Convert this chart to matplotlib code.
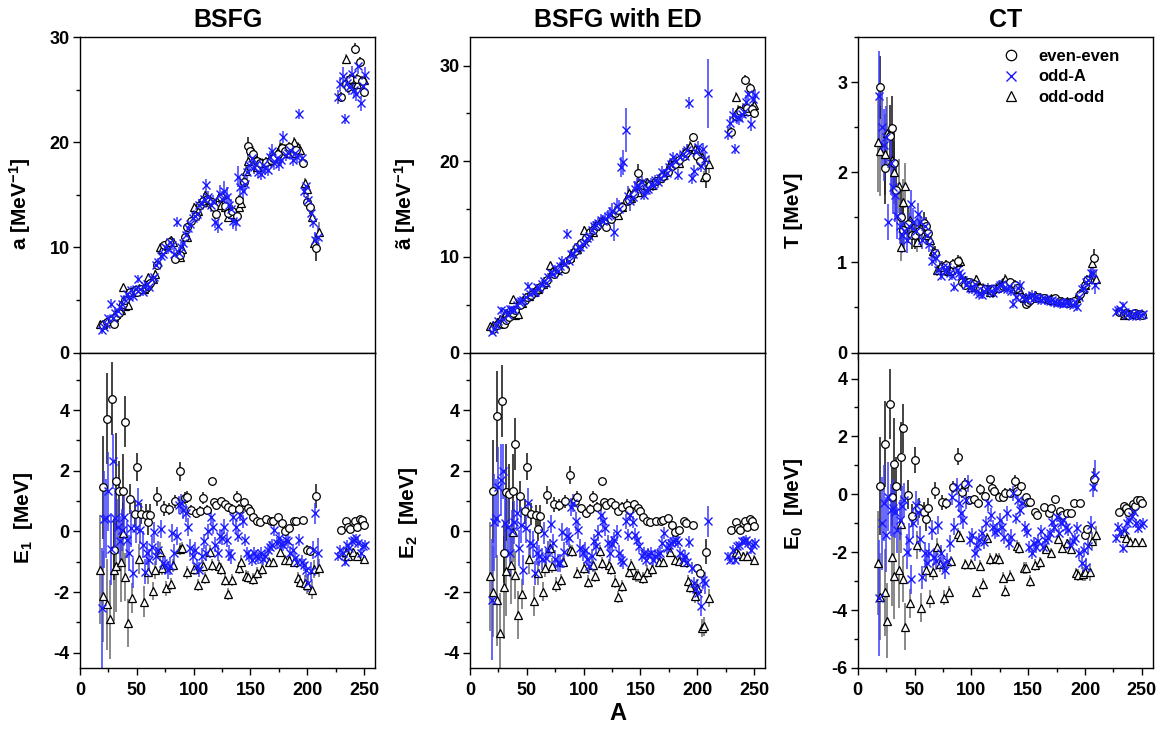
import matplotlib
matplotlib.use("Agg")
import matplotlib.pyplot as plt
from matplotlib.ticker import MultipleLocator
from matplotlib.lines import Line2D

plt.rcParams['font.family'] = ['Liberation Sans', 'DejaVu Sans']
plt.rcParams['font.weight'] = 'bold'
plt.rcParams['axes.labelweight'] = 'bold'
plt.rcParams['axes.titleweight'] = 'bold'
plt.rcParams['axes.unicode_minus'] = False
plt.rcParams['mathtext.fontset'] = 'custom'
plt.rcParams['mathtext.rm'] = 'Liberation Sans:bold'
plt.rcParams['mathtext.it'] = 'Liberation Sans:bold'
plt.rcParams['mathtext.bf'] = 'Liberation Sans:bold'

# ---------------- even-even nuclei ----------------
A_ee = [20, 24, 28, 30, 32, 34, 38, 40, 44, 48,
        50, 54, 58, 60, 62, 68, 74, 78, 84, 88,
        92, 94, 98, 102, 106, 108, 112, 116, 118, 120,
        124, 128, 130, 134, 138, 140, 144, 148, 150, 152,
        156, 158, 164, 168, 170, 174, 178, 180, 184, 188,
        190, 196, 200, 202, 208, 230, 234, 236, 238, 242,
        244, 246, 248, 250]
a_ee = [2.6, 2.9, 3.1, 2.75, 3.5, 3.8, 4.6, 5.0, 5.8, 5.9,
        5.8, 6.0, 6.1, 6.3, 6.6, 8.3, 10.2, 10.5, 8.9, 9.3,
        11.0, 11.9, 12.5, 13.0, 14.0, 14.4, 14.6, 14.3, 13.8, 13.2,
        14.8, 13.9, 13.3, 13.5, 13.0, 14.5, 16.2, 19.6, 19.2, 18.9,
        18.2, 18.0, 18.1, 18.3, 18.5, 18.9, 19.4, 19.2, 19.5, 19.0,
        19.3, 18.0, 14.3, 13.8, 9.9, 24.3, 25.5, 25.2, 26.0, 28.9,
        26.0, 27.6, 25.8, 24.8]
at_ee = [2.5, 2.9, 2.96, 3.0, 3.4, 3.7, 4.1, 4.4, 5.0, 5.5,
         5.8, 6.0, 6.4, 6.6, 6.8, 7.6, 8.2, 8.7, 8.7, 9.8,
         10.6, 11.0, 11.5, 12.0, 12.6, 12.8, 13.2, 13.6, 13.5, 13.1,
         14.0, 14.6, 14.9, 15.2, 15.8, 16.0, 16.6, 18.8, 17.6, 17.5,
         17.3, 17.5, 17.9, 18.2, 18.5, 18.9, 19.5, 19.7, 20.1, 20.6,
         20.9, 22.5, 20.6, 20.0, 18.4, 23.1, 24.7, 25.0, 25.3, 28.5,
         25.6, 27.7, 25.5, 25.0]
T_ee = [2.94, 2.05, 2.4, 2.49, 2.1, 1.8, 1.5, 1.36, 1.42, 1.3,
        1.3, 1.35, 1.44, 1.4, 1.33, 1.1, 0.95, 0.97, 0.98, 1.02,
        0.78, 0.75, 0.78, 0.76, 0.72, 0.72, 0.7, 0.7, 0.68, 0.7,
        0.72, 0.74, 0.75, 0.78, 0.75, 0.72, 0.62, 0.54, 0.56, 0.58,
        0.6, 0.62, 0.6, 0.58, 0.58, 0.6, 0.57, 0.56, 0.55, 0.56,
        0.57, 0.65, 0.75, 0.8, 1.05, 0.45, 0.43, 0.44, 0.42, 0.43,
        0.44, 0.42, 0.43, 0.42]
E1_ee = [1.46, 3.71, 4.38, -0.6, 1.65, 1.32, 1.35, 3.62, 1.07, 0.59,
         2.13, 0.59, 0.55, 0.3, 0.55, 1.15, 0.77, 0.74, 0.99, 1.98,
         1.1, 1.15, 0.71, 0.6, 0.69, 1.09, 0.71, 1.66, 0.97, 0.86,
         1.0, 0.89, 0.8, 0.74, 1.13, 0.75, 0.96, 0.77, 0.66, 0.49,
         0.36, 0.3, 0.4, 0.33, 0.36, 0.49, 0.27, 0.0, 0.11, 0.36,
         0.33, 0.38, -0.6, -0.63, 1.18, 0.05, 0.33, 0.14, 0.08, 0.33,
         0.16, 0.42, 0.38, 0.22]
E2_ee = [1.32, 3.8, 4.3, -0.7, 1.29, 1.24, 1.35, 2.88, 1.18, 0.66,
         2.14, 0.58, 0.53, 0.08, 0.52, 1.21, 0.9, 0.86, 0.99, 1.87,
         1.0, 1.15, 0.77, 0.6, 0.74, 1.15, 0.82, 1.67, 0.97, 0.88,
         0.97, 0.86, 0.68, 0.82, 0.88, 0.71, 0.9, 0.77, 0.66, 0.49,
         0.36, 0.3, 0.33, 0.36, 0.38, 0.44, 0.22, -0.03, 0.05, 0.33,
         0.27, 0.21, -1.21, -1.37, -0.66, 0.05, 0.3, 0.11, 0.05, 0.33,
         0.16, 0.42, 0.33, 0.19]
E0_ee = [0.29, 1.74, 3.12, -0.08, 1.05, 0.29, 1.3, 2.28, -0.02, -0.74,
         1.19, -0.46, -0.6, -0.85, -0.46, 0.13, -0.28, -0.31, 0.26, 1.3,
         0.09, 0.36, -0.2, -0.17, -0.31, 0.17, -0.06, 0.52, 0.23, 0.13,
         -0.08, -0.08, 0.06, 0.06, 0.47, 0.1, 0.29, -0.1, -0.25, -0.25,
         -0.62, -0.71, -0.43, -0.66, -0.48, -0.17, -0.58, -0.71, -0.63, -0.63,
         -0.31, -0.31, -1.4, -1.21, 0.52, -0.6, -0.39, -0.48, -0.62, -0.33,
         -0.39, -0.2, -0.2, -0.31]
errE_ee = [1.7, 1.5, 1.2, 1.0, 1.6, 1.0, 1.2, 0.85, 0.5, 0.4,
           0.45, 0.35, 0.35, 0.4, 0.35, 0.3, 0.25, 0.2, 0.2, 0.3,
           0.2, 0.2, 0.15, 0.15, 0.15, 0.2, 0.15, 0.1, 0.15, 0.15,
           0.15, 0.15, 0.15, 0.15, 0.2, 0.15, 0.15, 0.1, 0.1, 0.1,
           0.1, 0.1, 0.1, 0.1, 0.1, 0.1, 0.1, 0.1, 0.1, 0.1,
           0.1, 0.1, 0.15, 0.15, 0.4, 0.1, 0.1, 0.1, 0.1, 0.1,
           0.1, 0.1, 0.1, 0.1]
err_top_ee = [0.3, 0.3, 0.3, 0.3, 0.3, 0.3, 0.3, 0.3, 0.3, 0.3,
              0.3, 0.3, 0.3, 0.3, 0.3, 0.3, 0.3, 0.3, 0.4, 0.4,
              0.4, 0.4, 0.4, 0.4, 0.4, 0.4, 0.4, 0.4, 0.4, 0.4,
              0.4, 0.4, 0.5, 0.5, 0.5, 0.5, 0.5, 0.9, 0.5, 0.5,
              0.5, 0.5, 0.5, 0.5, 0.5, 0.5, 0.5, 0.5, 0.5, 0.5,
              0.5, 0.5, 0.6, 0.6, 1.2, 0.5, 0.5, 0.5, 0.5, 0.5,
              0.5, 0.5, 0.5, 0.5]
err_T_ee = [0.35, 0.4, 0.35, 0.35, 0.35, 0.3, 0.3, 0.25, 0.2, 0.15,
            0.15, 0.12, 0.12, 0.1, 0.1, 0.08, 0.06, 0.06, 0.06, 0.06,
            0.05, 0.05, 0.05, 0.05, 0.05, 0.05, 0.05, 0.05, 0.05, 0.05,
            0.05, 0.05, 0.05, 0.05, 0.05, 0.05, 0.05, 0.05, 0.05, 0.05,
            0.04, 0.04, 0.04, 0.04, 0.04, 0.04, 0.04, 0.04, 0.04, 0.04,
            0.04, 0.05, 0.06, 0.06, 0.1, 0.03, 0.03, 0.03, 0.03, 0.03,
            0.03, 0.03, 0.03, 0.03]

# ---------------- odd-odd nuclei ----------------
A_oo = [18, 20, 24, 26, 30, 32, 36, 38, 40, 42,
        46, 52, 56, 60, 64, 66, 70, 72, 76, 80,
        82, 88, 90, 94, 100, 104, 108, 110, 114, 116,
        122, 124, 128, 130, 134, 140, 142, 146, 148, 152,
        156, 160, 166, 170, 176, 180, 184, 188, 192, 194,
        198, 200, 204, 206, 210, 234, 236, 240, 244, 250]
a_oo = [2.7, 2.75, 3.0, 3.2, 3.4, 3.7, 4.0, 6.2, 4.4, 4.5,
        5.8, 6.1, 6.0, 7.2, 7.0, 7.5, 10.0, 9.8, 10.2, 10.7,
        10.5, 9.1, 9.8, 11.0, 13.8, 13.5, 14.3, 15.0, 14.5, 14.2,
        14.8, 14.0, 13.8, 12.9, 13.2, 13.8, 14.2, 17.3, 18.2, 19.1,
        17.6, 18.0, 18.2, 18.5, 19.5, 19.3, 19.0, 20.0, 19.5, 19.3,
        16.1, 15.5, 12.9, 10.4, 11.5, 27.9, 25.8, 26.0, 25.5, 25.9]
at_oo = [2.8, 2.9, 3.2, 3.5, 3.8, 4.1, 4.1, 5.6, 3.9, 4.0,
         5.2, 5.9, 6.3, 6.6, 7.2, 7.4, 9.1, 8.5, 8.6, 9.0,
         9.3, 10.0, 10.4, 10.8, 12.8, 12.4, 12.6, 13.2, 13.6, 13.8,
         14.1, 14.3, 14.8, 14.4, 15.2, 16.7, 16.2, 16.8, 16.8, 17.6,
         17.8, 17.5, 18.2, 18.6, 19.8, 19.8, 19.8, 20.9, 21.3, 21.6,
         21.3, 21.1, 20.4, 18.4, 19.7, 26.7, 25.4, 25.6, 25.3, 25.9]
T_oo = [2.33, 2.24, 2.2, 2.43, 2.14, 2.0, 1.85, 1.17, 1.67, 1.85,
        1.47, 1.23, 1.39, 1.3, 1.25, 1.13, 0.91, 0.95, 0.92, 0.9,
        0.91, 1.0, 1.02, 0.8, 0.73, 0.81, 0.73, 0.72, 0.7, 0.67,
        0.72, 0.74, 0.78, 0.82, 0.78, 0.7, 0.7, 0.6, 0.6, 0.62,
        0.64, 0.62, 0.6, 0.6, 0.58, 0.57, 0.57, 0.56, 0.6, 0.64,
        0.7, 0.75, 0.83, 0.99, 0.82, 0.42, 0.44, 0.43, 0.44, 0.43]
E1_oo = [-1.26, -2.14, -2.4, -2.89, -1.26, -1.15, -1.02, -0.05, -1.5, -3.02,
         -2.2, -0.91, -2.31, -1.34, -1.95, -1.26, -0.66, -1.2, -1.87, -1.72,
         -1.12, -0.57, -0.55, -1.35, -1.24, -1.76, -1.15, -1.54, -0.66, -1.1,
         -1.13, -1.24, -1.59, -2.05, -1.6, -1.2, -0.99, -1.46, -1.5, -1.57,
         -1.37, -1.24, -0.99, -1.02, -0.68, -0.93, -0.93, -1.02, -1.54, -1.65,
         -1.7, -1.76, -1.92, -1.24, -1.2, -0.69, -0.8, -0.69, -0.82, -0.91]
E2_oo = [-1.48, -1.98, -2.27, -3.33, -1.84, -1.3, -1.1, -0.02, -1.43, -2.75,
         -2.05, -0.9, -2.29, -1.37, -1.98, -1.2, -0.55, -1.13, -1.76, -1.6,
         -1.02, -0.6, -0.63, -1.37, -1.19, -1.65, -1.12, -1.46, -0.64, -1.04,
         -1.12, -1.24, -1.65, -2.16, -1.79, -1.34, -1.1, -1.45, -1.45, -1.54,
         -1.32, -1.24, -0.99, -1.02, -0.69, -0.93, -0.97, -1.02, -1.62, -1.84,
         -2.12, -1.85, -3.19, -3.13, -2.18, -0.66, -0.75, -0.82, -0.8, -0.93]
E0_oo = [-2.38, -3.53, -3.38, -4.37, -2.17, -2.81, -2.61, -1.04, -2.92, -4.57,
         -3.76, -1.75, -3.91, -2.61, -3.62, -2.67, -1.81, -2.42, -3.57, -3.36,
         -2.32, -1.38, -1.46, -2.42, -2.42, -3.36, -2.46, -3.1, -1.52, -2.23,
         -2.21, -2.23, -2.88, -3.33, -2.81, -1.78, -1.85, -2.55, -2.55, -2.99,
         -2.44, -2.35, -1.89, -2.01, -1.55, -1.86, -1.69, -1.89, -2.73, -2.78,
         -2.76, -2.7, -2.69, -1.6, -1.4, -1.35, -1.5, -1.63, -1.66, -1.66]
errE_oo = [1.8, 1.5, 1.5, 1.3, 1.7, 1.5, 1.3, 1.0, 0.8, 0.8,
           0.5, 0.5, 0.5, 0.4, 0.3, 0.3, 0.3, 0.25, 0.25, 0.2,
           0.2, 0.2, 0.2, 0.2, 0.2, 0.2, 0.2, 0.2, 0.2, 0.2,
           0.2, 0.2, 0.2, 0.2, 0.2, 0.2, 0.2, 0.2, 0.2, 0.2,
           0.2, 0.2, 0.15, 0.15, 0.15, 0.15, 0.15, 0.15, 0.2, 0.2,
           0.25, 0.3, 0.3, 0.3, 0.3, 0.15, 0.15, 0.15, 0.15, 0.15]
err_top_oo = [0.3, 0.3, 0.3, 0.3, 0.3, 0.3, 0.3, 0.3, 0.3, 0.3,
              0.3, 0.3, 0.3, 0.3, 0.3, 0.3, 0.3, 0.3, 0.3, 0.4,
              0.4, 0.4, 0.4, 0.4, 0.4, 0.4, 0.4, 0.4, 0.4, 0.4,
              0.4, 0.4, 0.5, 0.5, 0.5, 0.5, 0.5, 0.5, 0.5, 0.5,
              0.5, 0.5, 0.5, 0.5, 0.5, 0.5, 0.5, 0.5, 0.5, 0.5,
              0.5, 0.5, 0.6, 0.6, 0.9, 0.5, 0.5, 0.5, 0.5, 0.5]
err_T_oo = [0.55, 0.5, 0.45, 0.4, 0.4, 0.35, 0.3, 0.15, 0.25, 0.25,
            0.15, 0.12, 0.12, 0.1, 0.08, 0.08, 0.06, 0.06, 0.05, 0.05,
            0.05, 0.05, 0.05, 0.05, 0.05, 0.05, 0.05, 0.05, 0.05, 0.05,
            0.05, 0.05, 0.05, 0.05, 0.05, 0.05, 0.05, 0.05, 0.05, 0.05,
            0.04, 0.04, 0.04, 0.04, 0.04, 0.04, 0.04, 0.04, 0.04, 0.04,
            0.04, 0.05, 0.06, 0.08, 0.08, 0.03, 0.03, 0.03, 0.03, 0.03]

# ---------------- odd-A nuclei ----------------
A_oa = [19, 21, 23, 25, 27, 29, 31, 33, 35, 37,
        39, 41, 43, 45, 47, 49, 51, 53, 55, 57,
        59, 61, 63, 65, 67, 69, 71, 73, 75, 77,
        79, 81, 83, 85, 87, 89, 91, 93, 95, 97,
        99, 101, 103, 105, 107, 109, 111, 113, 115, 117,
        119, 121, 123, 125, 127, 129, 131, 133, 135, 137,
        139, 141, 143, 145, 147, 149, 151, 153, 155, 157,
        159, 161, 163, 165, 167, 169, 171, 173, 175, 177,
        179, 181, 183, 185, 187, 189, 191, 193, 195, 197,
        199, 201, 203, 205, 207, 209, 227, 229, 231, 233,
        235, 237, 239, 241, 243, 245, 247, 249, 251]
a_oa = [2.1, 2.4, 2.7, 3.3, 4.65, 3.3, 3.8, 3.9, 4.3, 4.6,
        5.1, 5.6, 5.3, 5.9, 5.4, 6.0, 7.0, 6.0, 5.8, 6.3,
        6.5, 6.2, 7.0, 7.2, 8.3, 8.6, 9.2, 9.4, 10.0, 9.8,
        10.5, 10.2, 9.4, 12.4, 9.5, 10.0, 10.4, 11.2, 11.8, 12.2,
        12.8, 13.0, 13.2, 14.0, 14.2, 14.6, 15.9, 14.8, 14.0, 14.4,
        12.4, 12.0, 15.1, 14.6, 15.4, 14.8, 14.0, 13.6, 12.5, 12.4,
        16.7, 15.7, 15.4, 16.0, 17.2, 17.8, 18.5, 17.6, 17.9, 17.2,
        17.0, 17.8, 17.5, 17.4, 18.6, 19.2, 18.0, 18.5, 17.9, 18.3,
        20.5, 18.8, 19.0, 19.3, 18.3, 19.0, 18.6, 22.7, 18.5, 15.4,
        15.8, 14.5, 13.3, 12.4, 10.7, 11.0, 24.3, 25.5, 26.3, 22.2,
        25.6, 25.2, 26.5, 25.0, 24.6, 27.2, 23.7, 25.3, 26.4]
at_oa = [2.1, 2.5, 2.9, 3.3, 4.4, 3.5, 4.3, 3.9, 4.5, 4.6,
         4.4, 5.0, 5.3, 5.4, 5.5, 5.8, 7.0, 6.1, 6.3, 6.3,
         6.8, 6.7, 7.2, 7.5, 7.3, 7.9, 8.3, 8.2, 8.8, 8.5,
         9.0, 9.6, 9.3, 12.4, 9.6, 10.3, 10.3, 10.7, 11.0, 11.0,
         11.4, 11.6, 12.0, 12.2, 12.8, 13.2, 13.3, 13.5, 13.9, 13.8,
         14.0, 14.3, 14.4, 14.8, 12.6, 15.3, 15.0, 19.4, 19.9, 23.3,
         16.4, 15.8, 16.3, 17.1, 17.5, 17.2, 17.8, 16.5, 17.0, 17.1,
         17.6, 17.5, 18.0, 17.8, 18.2, 18.9, 18.6, 18.8, 19.4, 19.7,
         20.4, 20.0, 18.6, 20.4, 20.8, 20.6, 21.2, 26.1, 18.2, 19.0,
         21.0, 21.5, 19.5, 21.3, 20.2, 27.1, 22.9, 24.0, 24.8, 21.3,
         24.6, 24.5, 24.9, 25.2, 26.2, 27.0, 23.9, 26.5, 26.9]
T_oa = [2.84, 2.5, 2.3, 2.39, 1.45, 2.1, 1.84, 1.75, 1.51, 1.4,
        1.3, 1.35, 1.25, 1.4, 1.65, 1.45, 1.35, 1.54, 1.45, 1.25,
        1.4, 1.3, 1.2, 1.02, 1.1, 1.05, 0.92, 0.85, 0.95, 0.9,
        0.95, 0.88, 0.85, 0.73, 0.92, 0.88, 0.85, 0.8, 0.75, 0.78,
        0.72, 0.7, 0.76, 0.68, 0.65, 0.64, 0.68, 0.7, 0.72, 0.68,
        0.66, 0.7, 0.72, 0.75, 0.76, 0.72, 0.7, 0.74, 0.68, 0.54,
        0.62, 0.72, 0.75, 0.62, 0.6, 0.58, 0.62, 0.64, 0.6, 0.62,
        0.6, 0.58, 0.6, 0.59, 0.58, 0.57, 0.58, 0.56, 0.55, 0.56,
        0.55, 0.54, 0.55, 0.56, 0.55, 0.53, 0.56, 0.51, 0.62, 0.7,
        0.72, 0.78, 0.8, 0.88, 0.88, 0.75, 0.45, 0.47, 0.48, 0.53,
        0.45, 0.42, 0.44, 0.4, 0.43, 0.41, 0.44, 0.42, 0.43]
E1_oa = [-2.53, 0.4, 0.44, 1.32, -0.58, 2.31, 0.44, 0.16, -0.3, 0.05,
         0.49, -0.27, -0.71, 0.1, -1.37, 0.11, 0.93, 0.05, -0.44, -1.32,
         -0.71, -0.93, -0.5, -0.03, -0.82, -0.6, 0.08, -1.04, -1.1, -1.26,
         -1.15, -0.05, -0.71, -0.16, 0.88, 0.93, 0.7, 0.6, 0.16, -0.55,
         -0.82, -0.6, -1.15, -1.26, -0.8, -0.33, -0.71, 0.0, 0.49, 0.16,
         -0.44, -0.71, -0.16, -0.2, 0.16, -0.27, -0.71, -0.82, 0.49, 0.16,
         -0.16, 0.55, 0.33, -0.27, -0.71, -0.82, -0.93, -0.71, -0.8, -0.88,
         -0.71, -0.9, -0.82, -0.6, -0.5, -0.44, 0.05, -0.38, -0.22, -0.4,
         -0.44, -0.27, -0.33, -0.7, -0.6, -0.88, -1.0, -0.27, -0.99, -1.1,
         -1.26, -1.7, -1.3, -0.6, 0.6, -0.7, -0.82, -0.6, -0.71, -0.99,
         -0.44, -0.55, -0.33, -0.27, -0.22, -0.38, -0.71, -0.49, -0.44]
E2_oa = [-2.25, 0.3, 0.44, 1.48, 1.7, 1.98, 0.27, 0.16, -0.71, 0.0,
         0.3, 0.6, -0.55, 0.22, -1.26, 0.11, 0.93, -0.38, -0.44, -1.37,
         -0.71, -0.8, -0.91, -0.05, -0.88, -0.6, 0.24, -0.38, -0.9, -1.04,
         -1.04, -0.03, -0.66, -0.16, -0.2, 0.82, 0.93, 0.33, 0.05, -0.55,
         -0.71, -0.6, -0.9, -1.15, -0.82, -0.33, -0.49, -0.05, 0.55, 0.33,
         0.11, -0.38, -0.71, -0.4, -0.27, -0.05, -0.71, -0.93, -0.99, 0.33,
         -0.11, 0.55, 0.3, -0.1, -0.27, -0.49, -0.82, -0.7, -0.93, -0.75,
         -0.71, -0.93, -0.82, -0.75, -0.71, -0.38, -0.05, -0.55, -0.45, -0.38,
         -0.3, -0.27, -0.36, -0.71, -0.93, -0.8, -1.0, -0.35, -1.2, -1.7,
         -1.9, -2.03, -2.47, -1.59, -1.7, 0.33, -0.82, -0.93, -0.6, -0.93,
         -0.49, -0.45, -0.33, -0.3, -0.27, -0.38, -0.6, -0.44, -0.38]
E0_oa = [-3.59, -1.0, -0.3, -1.4, -0.08, -0.54, -0.48, -0.6, -1.23, -0.89,
         -0.4, -0.2, -1.98, -1.58, -2.93, -1.0, -0.37, -0.6, -1.55, -2.87,
         -2.04, -2.38, -2.04, -1.23, -2.15, -2.3, -1.06, -2.04, -2.4, -2.61,
         -2.32, -1.69, -0.08, -1.12, 0.26, -0.31, -0.66, -0.89, -0.2, 0.38,
         -1.58, -1.4, -2.04, -1.8, -1.58, -1.35, -1.63, -1.0, -0.31, -0.71,
         -1.12, -1.29, -1.23, -0.89, -1.12, -1.46, -0.66, -1.69, -1.46, 0.03,
         -0.83, -0.2, -0.54, -0.31, -1.12, -1.3, -1.81, -2.04, -1.69, -1.81,
         -1.6, -1.27, -1.81, -1.58, -1.5, -1.35, -0.94, -1.12, -0.77, -1.35,
         -1.0, -0.89, -1.12, -1.23, -1.75, -1.6, -1.52, -1.17, -2.04, -2.38,
         -1.92, -2.5, -1.8, -1.06, 0.26, 0.67, -1.52, -1.12, -1.3, -1.86,
         -1.23, -1.0, -0.89, -0.75, -0.6, -1.0, -1.17, -1.05, -0.98]
errE_oa = [2.0, 1.6, 1.3, 1.3, 1.2, 0.9, 1.0, 0.9, 0.8, 0.7,
           0.7, 0.6, 0.6, 0.6, 0.5, 0.5, 0.5, 0.45, 0.45, 0.4,
           0.4, 0.35, 0.35, 0.35, 0.3, 0.3, 0.3, 0.3, 0.3, 0.3,
           0.3, 0.3, 0.3, 0.3, 0.3, 0.3, 0.3, 0.3, 0.3, 0.3,
           0.25, 0.25, 0.25, 0.25, 0.25, 0.25, 0.25, 0.25, 0.25, 0.25,
           0.25, 0.25, 0.25, 0.25, 0.25, 0.25, 0.25, 0.25, 0.25, 0.25,
           0.2, 0.2, 0.2, 0.2, 0.2, 0.2, 0.2, 0.2, 0.2, 0.2,
           0.2, 0.2, 0.2, 0.2, 0.2, 0.2, 0.2, 0.2, 0.2, 0.2,
           0.2, 0.2, 0.2, 0.2, 0.2, 0.2, 0.2, 0.2, 0.2, 0.2,
           0.25, 0.3, 0.3, 0.3, 0.35, 0.5, 0.15, 0.15, 0.15, 0.15,
           0.15, 0.15, 0.15, 0.15, 0.15, 0.15, 0.15, 0.15, 0.15]
err_a_oa = [0.3, 0.3, 0.3, 0.3, 0.4, 0.3, 0.3, 0.3, 0.3, 0.3,
            0.4, 0.4, 0.4, 0.4, 0.4, 0.4, 0.4, 0.4, 0.4, 0.4,
            0.4, 0.4, 0.4, 0.4, 0.4, 0.4, 0.4, 0.4, 0.4, 0.4,
            0.5, 0.5, 0.5, 0.5, 0.5, 0.5, 0.5, 0.5, 0.5, 0.5,
            0.6, 0.6, 0.6, 0.6, 0.6, 0.6, 0.6, 0.6, 0.6, 0.6,
            0.6, 0.6, 0.8, 0.8, 0.9, 0.9, 1.0, 1.0, 0.8, 0.8,
            1.0, 1.0, 0.8, 0.8, 0.7, 0.7, 0.7, 0.6, 0.6, 0.6,
            0.6, 0.6, 0.6, 0.6, 0.6, 0.6, 0.6, 0.6, 0.6, 0.6,
            0.6, 0.6, 0.6, 0.6, 0.6, 0.6, 0.6, 0.5, 0.6, 0.6,
            0.6, 0.6, 0.6, 0.6, 0.8, 1.0, 0.7, 0.7, 0.8, 0.5,
            0.7, 0.7, 0.7, 0.7, 0.7, 0.7, 0.7, 0.7, 0.7]
err_at_oa = [0.3, 0.3, 0.3, 0.3, 0.4, 0.3, 0.3, 0.3, 0.3, 0.3,
             0.4, 0.4, 0.4, 0.4, 0.4, 0.4, 0.4, 0.4, 0.4, 0.4,
             0.4, 0.4, 0.4, 0.4, 0.4, 0.4, 0.4, 0.4, 0.4, 0.4,
             0.5, 0.5, 0.5, 0.5, 0.5, 0.5, 0.5, 0.5, 0.5, 0.5,
             0.6, 0.6, 0.6, 0.6, 0.6, 0.6, 0.6, 0.6, 0.6, 0.6,
             0.6, 0.6, 0.8, 0.8, 0.9, 0.9, 1.0, 1.0, 1.3, 2.3,
             1.0, 1.0, 0.8, 0.8, 0.7, 0.7, 0.7, 0.6, 0.6, 0.6,
             0.6, 0.6, 0.6, 0.6, 0.6, 0.6, 0.6, 0.6, 0.6, 0.6,
             0.6, 0.6, 0.6, 0.6, 0.6, 0.6, 0.6, 0.6, 0.6, 0.6,
             0.6, 0.6, 0.6, 0.6, 0.8, 3.6, 0.7, 0.7, 0.8, 0.5,
             0.7, 0.7, 0.7, 0.7, 0.7, 0.7, 0.7, 0.7, 0.7]
err_T_oa = [0.5, 0.45, 0.4, 0.35, 0.2, 0.35, 0.3, 0.3, 0.25, 0.2,
            0.2, 0.2, 0.15, 0.15, 0.15, 0.15, 0.12, 0.12, 0.1, 0.1,
            0.1, 0.08, 0.08, 0.06, 0.06, 0.06, 0.05, 0.05, 0.05, 0.05,
            0.05, 0.05, 0.05, 0.05, 0.05, 0.05, 0.05, 0.05, 0.05, 0.05,
            0.05, 0.05, 0.05, 0.05, 0.05, 0.05, 0.05, 0.05, 0.05, 0.05,
            0.05, 0.05, 0.05, 0.05, 0.05, 0.05, 0.05, 0.05, 0.05, 0.05,
            0.05, 0.05, 0.05, 0.05, 0.05, 0.05, 0.05, 0.05, 0.05, 0.05,
            0.05, 0.05, 0.05, 0.05, 0.05, 0.05, 0.05, 0.05, 0.05, 0.05,
            0.05, 0.05, 0.05, 0.05, 0.05, 0.05, 0.05, 0.05, 0.05, 0.05,
            0.05, 0.05, 0.05, 0.06, 0.08, 0.1, 0.03, 0.03, 0.03, 0.03,
            0.03, 0.03, 0.03, 0.03, 0.03, 0.03, 0.03, 0.03, 0.03]

titles = ["BSFG", "BSFG with ED", "CT"]
top_labels = ["a [MeV$^{-1}$]", "ã [MeV$^{-1}$]", "T [MeV]"]
bot_labels = ["E$_{1}$  [MeV]", "E$_{2}$  [MeV]", "E$_{0}$  [MeV]"]
legend_labels = ["even-even", "odd-A", "odd-odd"]

BLUE = '#1a1aff'
BLUE_BAR = '#3c3cff'


def draw(ax, y_ee, e_ee, y_oa, e_oa, y_oo, e_oo):
    ax.errorbar(A_oo, y_oo, yerr=e_oo, fmt='none', ecolor='#6a6a6a', elinewidth=1.1, zorder=2)
    ax.errorbar(A_ee, y_ee, yerr=e_ee, fmt='none', ecolor='#111111', elinewidth=1.1, zorder=2)
    ax.errorbar(A_oa, y_oa, yerr=e_oa, fmt='none', ecolor=BLUE_BAR, elinewidth=1.1, zorder=2)
    ax.plot(A_oo, y_oo, '^', ls='none', ms=6.0, mfc='white', mec='black', mew=0.9, zorder=3)
    ax.plot(A_ee, y_ee, 'o', ls='none', ms=5.5, mfc='white', mec='black', mew=0.9, zorder=3)
    ax.plot(A_oa, y_oa, 'x', ls='none', ms=5.8, color=BLUE, mew=1.0, zorder=4)


fig = plt.figure(figsize=(11.63, 7.30), dpi=100)
W, H = 1163.0, 730.0
lefts = [80.0, 470.0, 857.7]
aw = 295.5
top_px, mid_px, bot_px = 37.0, 352.5, 668.0

top_data = [(a_ee, err_top_ee, a_oa, err_a_oa, a_oo, err_top_oo),
            (at_ee, err_top_ee, at_oa, err_at_oa, at_oo, err_top_oo),
            (T_ee, err_T_ee, T_oa, err_T_oa, T_oo, err_T_oo)]
bot_data = [(E1_ee, errE_ee, E1_oa, errE_oa, E1_oo, errE_oo),
            (E2_ee, errE_ee, E2_oa, errE_oa, E2_oo, errE_oo),
            (E0_ee, errE_ee, E0_oa, errE_oa, E0_oo, errE_oo)]
top_ylim = [(0, 30), (0, 33), (0, 3.5)]
top_major = [10, 10, 1]
top_minor = [5, 5, 0.5]
bot_ylim = [(-4.5, 5.9), (-4.5, 5.9), (-6, 4.9)]
# x-position (axes fraction) of the right edge of each rotated y-label
lab_x_top = [-0.159, -0.176, -0.185]
lab_x_bot = [-0.152, -0.169, -0.179]
lab_y_top = [0.47, 0.47, 0.45]
lab_y_bot = [0.475, 0.49, 0.52]


def style(ax):
    ax.set_xlim(0, 260)
    ax.xaxis.set_major_locator(MultipleLocator(50))
    ax.xaxis.set_minor_locator(MultipleLocator(25))
    ax.tick_params(which='both', direction='out', width=1.0, top=False, right=False)
    ax.tick_params(which='major', length=5, labelsize=13, pad=2.5)
    ax.tick_params(which='minor', length=3)
    ax.tick_params(axis='x', which='major', pad=5)
    for s in ax.spines.values():
        s.set_linewidth(1.0)
    for lab in ax.get_xticklabels() + ax.get_yticklabels():
        lab.set_fontweight('bold')


for i in range(3):
    axt = fig.add_axes([lefts[i] / W, (H - mid_px) / H, aw / W, (mid_px - top_px) / H])
    axb = fig.add_axes([lefts[i] / W, (H - bot_px) / H, aw / W, (bot_px - mid_px) / H])
    draw(axt, *top_data[i])
    draw(axb, *bot_data[i])
    axt.set_ylim(*top_ylim[i])
    axt.yaxis.set_major_locator(MultipleLocator(top_major[i]))
    axt.yaxis.set_minor_locator(MultipleLocator(top_minor[i]))
    axb.set_ylim(*bot_ylim[i])
    axb.yaxis.set_major_locator(MultipleLocator(2))
    axb.yaxis.set_minor_locator(MultipleLocator(1))
    style(axt)
    style(axb)
    axt.tick_params(axis='x', labelbottom=False)
    axt.set_title(titles[i], fontsize=18, fontweight='bold', pad=7)
    axt.set_ylabel(top_labels[i], fontsize=15, fontweight='bold')
    axb.set_ylabel(bot_labels[i], fontsize=15, fontweight='bold')
    axt.yaxis.set_label_coords(lab_x_top[i], lab_y_top[i])
    axb.yaxis.set_label_coords(lab_x_bot[i], lab_y_bot[i])
    if i == 1:
        axb.set_xlabel("A", fontsize=17, fontweight='bold', labelpad=2)
    if i == 2:
        handles = [Line2D([], [], marker='o', ls='none', ms=7.5, mfc='white', mec='black', mew=0.9),
                   Line2D([], [], marker='x', ls='none', ms=7.5, color=BLUE, mew=1.0),
                   Line2D([], [], marker='^', ls='none', ms=7.5, mfc='white', mec='black', mew=0.9)]
        leg = axt.legend(handles, legend_labels, loc='upper left', bbox_to_anchor=(0.49, 0.962),
                         frameon=False, prop={'weight': 'bold', 'size': 12},
                         handlelength=1.0, handletextpad=1.15, labelspacing=0.33, borderpad=0.0,
                         borderaxespad=0.0)

fig.savefig("out.png", dpi=100)
